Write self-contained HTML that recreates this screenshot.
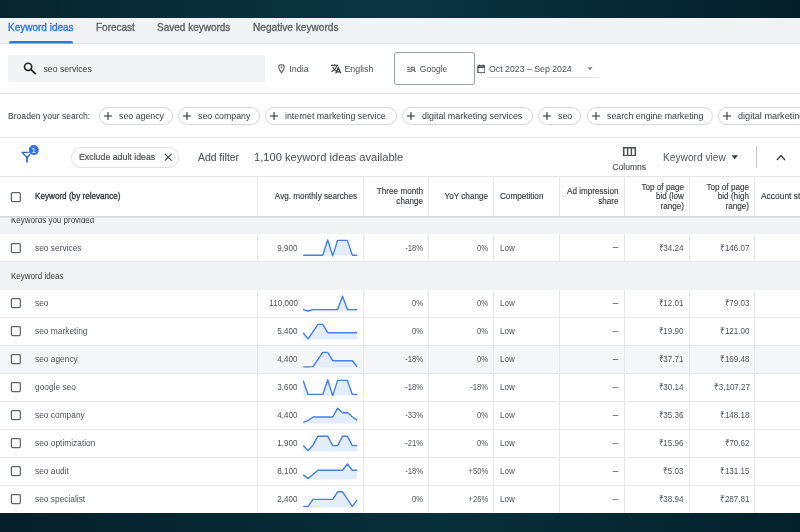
<!DOCTYPE html>
<html lang="en">
<head>
<meta charset="utf-8">
<title>Keyword ideas</title>
<style>
*{box-sizing:border-box;margin:0;padding:0}
html,body{width:800px;height:532px;overflow:hidden}
body{position:relative;background:linear-gradient(90deg,#07252e 0%,#092e38 25%,#0a3541 50%,#072a35 75%,#041e29 100%);font-family:"Liberation Sans",Arial,sans-serif;color:#3c4043;font-size:9px}
.abs{position:absolute}
.panel{position:absolute;left:0;top:18px;width:800px;height:495px;background:#fff}
.tabbar{position:absolute;left:0;top:18px;width:800px;height:26px;background:#f1f3f4;border-bottom:1px solid #e0e2e5}
.t{position:absolute;white-space:nowrap;line-height:12px;height:12px}
.tab{font-size:10px;color:#5f6368;top:22px;-webkit-text-stroke:0.33px currentColor}
.hl{position:absolute;left:0;width:800px;height:1px;background:#e3e5e8}
.chip{position:absolute;top:107px;height:18px;border:1px solid #d6d9dd;border-radius:9px;font-size:8.8px;line-height:16px;color:#3c4043;white-space:nowrap;padding-left:19px}
.chip svg{position:absolute;left:4px;top:4px;width:8px;height:8px}
/* table */
.th{position:absolute;top:177px;height:40px;font-size:8.5px;line-height:9.6px;color:#3c4043;display:flex;align-items:center;-webkit-text-stroke:0.15px currentColor;transform:scaleX(.957);transform-origin:left center}
.th.r{justify-content:flex-end;text-align:right;transform-origin:right center}
.vl{position:absolute;top:177px;width:1px;height:336px;background:#e6e8eb}
.row{position:absolute;left:0;width:800px;height:28px;border-bottom:1px solid #e6e8ea;background:#fff}
.grp{position:absolute;left:0;width:800px;background:#f1f3f4;font-size:9px;color:#3c4043}
.grp span{position:absolute;left:11px;white-space:nowrap;transform:scaleX(.89);transform-origin:left center}
.cb{position:absolute;left:9px;top:7px;width:13px;height:13px}
.c{position:absolute;top:7px;line-height:12px;font-size:9px;color:#50545a;white-space:nowrap;transform:scaleX(.895);transform-origin:left center}
.c.r{text-align:right;transform-origin:right center}
.c.kw{left:35px;transform:scaleX(.929)}
.n1{right:502.5px}.n2{right:377px}.n3{right:312px}.c.n2,.c.n3{transform:scaleX(.85)}.c.n4{left:499.5px;transform:scaleX(.895)}.c.n5{right:181.7px;font-size:10px;transform:none}.n6{right:116px}.n7{right:50.3px}
.ru{font-style:normal;font-size:8px;margin-right:-0.8px;-webkit-text-stroke:0.2px currentColor}
.sp{position:absolute;left:302px;top:3px;width:58px;height:20px}
</style>
</head>
<body>
<div id="root" style="position:absolute;left:0;top:0;width:800px;height:532px;overflow:hidden;will-change:transform;filter:blur(.4px)">
<div class="abs" style="left:0;top:510px;width:800px;height:22px;background:linear-gradient(90deg,#061f2a 0%,#072833 30%,#08303a 55%,#062833 78%,#04202b 100%)"></div>
<div class="panel"></div>
<div class="tabbar"></div>
<!-- tabs -->
<span class="t tab" style="left:8px;color:#2a75e6">Keyword ideas</span>
<div class="abs" style="left:9px;top:41px;width:64px;height:3px;background:linear-gradient(#2a75e6 0,#2a75e6 2px,rgba(42,117,230,.45) 2px);border-radius:2px 2px 0 0"></div>
<span class="t tab" style="left:96px">Forecast</span>
<span class="t tab" style="left:157px">Saved keywords</span>
<span class="t tab" style="left:253px;font-size:10.15px">Negative keywords</span>

<!-- search row -->
<div class="abs" style="left:8px;top:55px;width:257px;height:27px;background:#f1f3f4;border-radius:2px"></div>
<svg class="abs" style="left:22px;top:61px" width="16" height="16" viewBox="0 0 16 16"><circle cx="6.1" cy="5.85" r="3.6" fill="none" stroke="#202124" stroke-width="1.6"/><path d="M8.8 8.5L13.2 12.6" stroke="#202124" stroke-width="1.8" stroke-linecap="square"/></svg>
<span class="t" style="left:43.5px;top:63px;font-size:8.7px;color:#3c4043">seo services</span>

<svg class="abs" style="left:277.7px;top:64px" width="7" height="9.5" viewBox="0 0 8 11"><path d="M4 0.7C2.1 0.7 0.8 2.1 0.8 3.9C0.8 6.2 4 10.2 4 10.2C4 10.2 7.2 6.2 7.2 3.9C7.2 2.1 5.9 0.7 4 0.7Z" fill="none" stroke="#5f6368" stroke-width="1.3"/><circle cx="4" cy="3.9" r="1.1" fill="#5f6368"/></svg>
<span class="t" style="left:289.3px;top:63px;font-size:9px;color:#4d5156">India</span>
<svg class="abs" style="left:330px;top:63px" width="12" height="12" viewBox="0 0 12 12"><path d="M0.9 2.3H8.1M4.5 1.2V2.3M6.9 2.4C6.3 4.8 4.3 7.3 1.4 8.6M2.7 4.1C3.4 5.8 4.7 7.4 6.4 8.3" fill="none" stroke="#4a4e52" stroke-width="1.2"/><path d="M5.8 10.3L8.3 4.9L10.8 10.3M6.6 8.8H10" fill="none" stroke="#3c4043" stroke-width="1.3"/></svg>
<span class="t" style="left:344.5px;top:63px;font-size:8.8px;color:#4d5156">English</span>

<div class="abs" style="left:394px;top:52px;width:81px;height:33px;border:1px solid #999ea3;border-radius:3px;background:#fff"></div>
<svg class="abs" style="left:406.8px;top:65.6px" width="9" height="7.2" viewBox="0 0 10 8"><path d="M0.2 1.4H3.2M0.2 3.6H3.2M0.2 5.9H5.6" stroke="#55595e" stroke-width="1.15"/><circle cx="6.3" cy="2.9" r="1.9" fill="none" stroke="#4a4e52" stroke-width="1.15"/><path d="M7.6 4.4L9.5 6.6" stroke="#4a4e52" stroke-width="1.25"/></svg>
<span class="t" style="left:419.8px;top:63px;font-size:8.55px;color:#4d5156">Google</span>

<svg class="abs" style="left:476.6px;top:63.6px" width="8.8" height="9.7" viewBox="0 0 10 11"><rect x="1" y="1.9" width="8" height="8.2" rx="0.6" fill="none" stroke="#3c4043" stroke-width="1.25"/><path d="M1 3.5H9" stroke="#3c4043" stroke-width="1.7"/><path d="M3 0.6V2M7 0.6V2" stroke="#3c4043" stroke-width="1.3"/></svg>
<span class="t" style="left:489px;top:62.5px;font-size:8.75px;color:#4d5156">Oct 2023 – Sep 2024</span>
<svg class="abs" style="left:587.3px;top:67.3px" width="6" height="3.6" viewBox="0 0 8 5"><path d="M0.3 0.3H7.7L4 4.6Z" fill="#80868b"/></svg>
<div class="abs" style="left:487px;top:77px;width:112px;height:1px;background:#dfe1e5"></div>

<div class="hl" style="top:93px"></div>

<!-- broaden row -->
<span class="t" style="left:8px;top:110px;font-size:8.6px;color:#3c4043">Broaden your search:</span>
<div class="chip" style="left:99px;width:74px"><svg viewBox="0 0 8 8"><path d="M0 4H8M4 0V8" stroke="#2a2d31" stroke-width="1.05"/></svg>seo agency</div>
<div class="chip" style="left:178px;width:82px"><svg viewBox="0 0 8 8"><path d="M0 4H8M4 0V8" stroke="#2a2d31" stroke-width="1.05"/></svg>seo company</div>
<div class="chip" style="left:265px;width:132px"><svg viewBox="0 0 8 8"><path d="M0 4H8M4 0V8" stroke="#2a2d31" stroke-width="1.05"/></svg>internet marketing service</div>
<div class="chip" style="left:402px;width:131px;font-size:8.95px"><svg viewBox="0 0 8 8"><path d="M0 4H8M4 0V8" stroke="#2a2d31" stroke-width="1.05"/></svg>digital marketing services</div>
<div class="chip" style="left:538px;width:43px"><svg viewBox="0 0 8 8"><path d="M0 4H8M4 0V8" stroke="#2a2d31" stroke-width="1.05"/></svg>seo</div>
<div class="chip" style="left:587px;width:126px"><svg viewBox="0 0 8 8"><path d="M0 4H8M4 0V8" stroke="#2a2d31" stroke-width="1.05"/></svg>search engine marketing</div>
<div class="chip" style="left:718px;width:120px;font-size:9.15px"><svg viewBox="0 0 8 8"><path d="M0 4H8M4 0V8" stroke="#2a2d31" stroke-width="1.05"/></svg>digital marketing agency</div>

<div class="hl" style="top:137px"></div>

<!-- filter row -->
<svg class="abs" style="left:20px;top:144px" width="22" height="22" viewBox="0 0 22 22"><path d="M2.1 8.3H11.9L7 13.6Z" fill="none" stroke="#2c66dc" stroke-width="1.35" stroke-linejoin="round"/><path d="M7 13V17.7" stroke="#2c5fd2" stroke-width="1.7" stroke-linecap="square"/><circle cx="13.8" cy="6.1" r="5.6" fill="#fff"/><circle cx="13.8" cy="6.1" r="5" fill="#3572e4"/><text x="13.7" y="9" font-family="Liberation Sans, sans-serif" font-size="8" fill="#fff" text-anchor="middle">1</text></svg>
<div class="abs" style="left:71px;top:147px;width:108px;height:21px;border:1px solid #dfe1e4;border-radius:11px"></div>
<span class="t" style="left:79.3px;top:151px;font-size:9.2px;color:#4d5156;-webkit-text-stroke:0.2px currentColor;transform:scaleX(.957);transform-origin:left center">Exclude adult ideas</span>
<svg class="abs" style="left:163.5px;top:153px" width="8.5" height="8.5" viewBox="0 0 8 8"><path d="M0.8 0.8L7.2 7.2M7.2 0.8L0.8 7.2" stroke="#3c4043" stroke-width="1.15"/></svg>
<span class="t" style="left:198px;top:151.5px;font-size:10.4px;color:#55595e;-webkit-text-stroke:0.15px currentColor">Add filter</span>
<span class="t" style="left:254px;top:151px;font-size:11.15px;color:#4a4e52">1,100 keyword ideas available</span>

<svg class="abs" style="left:623px;top:146.5px" width="13" height="9.5" viewBox="0 0 13 9.5"><rect x="0.75" y="0.75" width="11.5" height="8" fill="none" stroke="#4a4e52" stroke-width="1.5"/><path d="M4.6 0.75V8.75M8.4 0.75V8.75" stroke="#4a4e52" stroke-width="1.4"/></svg>
<span class="t" style="left:612.5px;top:160.5px;font-size:8.5px;color:#55595e;-webkit-text-stroke:0.15px currentColor">Columns</span>
<span class="t" style="left:663px;top:151.5px;font-size:10.2px;color:#55595e">Keyword view</span>
<svg class="abs" style="left:731px;top:155px" width="7.5" height="4.5" viewBox="0 0 8 5"><path d="M0.3 0.3H7.7L4 4.6Z" fill="#3c4043"/></svg>
<div class="abs" style="left:756px;top:146px;width:1px;height:22px;background:#c4c7cc"></div>
<svg class="abs" style="left:776px;top:153.8px" width="10" height="7" viewBox="0 0 10 7"><path d="M1 6L5 1.6L9 6" fill="none" stroke="#3c4043" stroke-width="1.4"/></svg>

<div class="hl" style="top:176px"></div>

<!-- TABLE -->
<!--TB-->
<div class="row" style="top:234px"><svg class="cb" viewBox="0 0 13 13" style="top:7.5px"><rect x="2.4" y="1.65" width="8.9" height="8.9" rx="1" fill="#fff" stroke="#62666b" stroke-width="1.25"/></svg><span class="c kw" style="top:8px">seo services</span><span class="c r n1" style="top:8px">9,900</span><svg class="sp" style="top:3px" viewBox="0 0 58 20"><path d="M1.2,18.6 L1.2,18.3 L6.1,18.3 L11.0,18.3 L15.9,18.3 L20.8,18.3 L25.7,3.0 L30.7,18.9 L35.6,3.4 L40.5,3.4 L45.4,3.4 L50.3,18.3 L55.2,18.3 L55.2,18.6Z" fill="#e4edfd"/><polyline points="1.2,18.3 6.1,18.3 11.0,18.3 15.9,18.3 20.8,18.3 25.7,3.0 30.7,18.9 35.6,3.4 40.5,3.4 45.4,3.4 50.3,18.3 55.2,18.3" fill="none" stroke="#4580e6" stroke-width="1.4" stroke-linejoin="round"/></svg><span class="c r n2" style="top:8px">-18%</span><span class="c r n3" style="top:8px">0%</span><span class="c n4" style="top:8px">Low</span><span class="c r n5" style="top:6.5px">–</span><span class="c r n6" style="top:8px">₹34.24</span><span class="c r n7" style="top:8px">₹146.07</span></div>
<div class="row" style="top:290px"><svg class="cb" viewBox="0 0 13 13" style="top:6.7px"><rect x="2.4" y="1.65" width="8.9" height="8.9" rx="1" fill="#fff" stroke="#62666b" stroke-width="1.25"/></svg><span class="c kw" style="top:7px">seo</span><span class="c r n1" style="top:7px">110,000</span><svg class="sp" style="top:3px" viewBox="0 0 58 20"><path d="M1.2,18.6 L1.2,16.6 L6.1,18.0 L11.0,16.6 L15.9,16.6 L20.8,16.6 L25.7,16.6 L30.7,16.6 L35.6,16.6 L40.5,3.2 L45.4,16.6 L50.3,16.6 L55.2,16.6 L55.2,18.6Z" fill="#e4edfd"/><polyline points="1.2,16.6 6.1,18.0 11.0,16.6 15.9,16.6 20.8,16.6 25.7,16.6 30.7,16.6 35.6,16.6 40.5,3.2 45.4,16.6 50.3,16.6 55.2,16.6" fill="none" stroke="#4580e6" stroke-width="1.4" stroke-linejoin="round"/></svg><span class="c r n2" style="top:7px">0%</span><span class="c r n3" style="top:7px">0%</span><span class="c n4" style="top:7px">Low</span><span class="c r n5" style="top:6.5px">–</span><span class="c r n6" style="top:7px">₹12.01</span><span class="c r n7" style="top:7px">₹79.03</span></div>
<div class="row" style="top:318px"><svg class="cb" viewBox="0 0 13 13" style="top:6.7px"><rect x="2.4" y="1.65" width="8.9" height="8.9" rx="1" fill="#fff" stroke="#62666b" stroke-width="1.25"/></svg><span class="c kw" style="top:7px">seo marketing</span><span class="c r n1" style="top:7px">5,400</span><svg class="sp" style="top:3px" viewBox="0 0 58 20"><path d="M1.2,18.6 L1.2,11.7 L6.1,17.9 L11.0,10.6 L15.9,3.4 L20.8,3.4 L25.7,11.7 L30.7,11.7 L35.6,11.7 L40.5,11.7 L45.4,11.7 L50.3,11.7 L55.2,11.7 L55.2,18.6Z" fill="#e4edfd"/><polyline points="1.2,11.7 6.1,17.9 11.0,10.6 15.9,3.4 20.8,3.4 25.7,11.7 30.7,11.7 35.6,11.7 40.5,11.7 45.4,11.7 50.3,11.7 55.2,11.7" fill="none" stroke="#4580e6" stroke-width="1.4" stroke-linejoin="round"/></svg><span class="c r n2" style="top:7px">0%</span><span class="c r n3" style="top:7px">0%</span><span class="c n4" style="top:7px">Low</span><span class="c r n5" style="top:6.5px">–</span><span class="c r n6" style="top:7px">₹19.90</span><span class="c r n7" style="top:7px">₹121.00</span></div>
<div class="row" style="top:346px;background:#f5f6f7"><svg class="cb" viewBox="0 0 13 13" style="top:6.7px"><rect x="2.4" y="1.65" width="8.9" height="8.9" rx="1" fill="#fff" stroke="#62666b" stroke-width="1.25"/></svg><span class="c kw" style="top:7px">seo agency</span><span class="c r n1" style="top:7px">4,400</span><svg class="sp" style="top:3px" viewBox="0 0 58 20"><path d="M1.2,18.6 L1.2,17.9 L6.1,17.9 L11.0,17.6 L15.9,10.5 L20.8,3.4 L25.7,3.4 L30.7,11.7 L35.6,11.7 L40.5,11.7 L45.4,11.7 L50.3,11.7 L55.2,17.7 L55.2,18.6Z" fill="#e4edfd"/><polyline points="1.2,17.9 6.1,17.9 11.0,17.6 15.9,10.5 20.8,3.4 25.7,3.4 30.7,11.7 35.6,11.7 40.5,11.7 45.4,11.7 50.3,11.7 55.2,17.7" fill="none" stroke="#4580e6" stroke-width="1.4" stroke-linejoin="round"/></svg><span class="c r n2" style="top:7px">-18%</span><span class="c r n3" style="top:7px">0%</span><span class="c n4" style="top:7px">Low</span><span class="c r n5" style="top:6.5px">–</span><span class="c r n6" style="top:7px">₹37.71</span><span class="c r n7" style="top:7px">₹169.48</span></div>
<div class="row" style="top:374px"><svg class="cb" viewBox="0 0 13 13" style="top:6.7px"><rect x="2.4" y="1.65" width="8.9" height="8.9" rx="1" fill="#fff" stroke="#62666b" stroke-width="1.25"/></svg><span class="c kw" style="top:7px">google seo</span><span class="c r n1" style="top:7px">3,600</span><svg class="sp" style="top:3px" viewBox="0 0 58 20"><path d="M1.2,18.6 L1.2,3.7 L6.1,17.4 L11.0,17.4 L15.9,17.4 L20.8,17.4 L25.7,3.0 L30.7,18.6 L35.6,3.4 L40.5,3.4 L45.4,3.4 L50.3,17.4 L55.2,17.4 L55.2,18.6Z" fill="#e4edfd"/><polyline points="1.2,3.7 6.1,17.4 11.0,17.4 15.9,17.4 20.8,17.4 25.7,3.0 30.7,18.6 35.6,3.4 40.5,3.4 45.4,3.4 50.3,17.4 55.2,17.4" fill="none" stroke="#4580e6" stroke-width="1.4" stroke-linejoin="round"/></svg><span class="c r n2" style="top:7px">-18%</span><span class="c r n3" style="top:7px">-18%</span><span class="c n4" style="top:7px">Low</span><span class="c r n5" style="top:6.5px">–</span><span class="c r n6" style="top:7px">₹30.14</span><span class="c r n7" style="top:7px">₹3,107.27</span></div>
<div class="row" style="top:402px"><svg class="cb" viewBox="0 0 13 13" style="top:6.7px"><rect x="2.4" y="1.65" width="8.9" height="8.9" rx="1" fill="#fff" stroke="#62666b" stroke-width="1.25"/></svg><span class="c kw" style="top:7px">seo company</span><span class="c r n1" style="top:7px">4,400</span><svg class="sp" style="top:3px" viewBox="0 0 58 20"><path d="M1.2,18.6 L1.2,17.4 L6.1,15.4 L11.0,12.0 L15.9,12.0 L20.8,12.0 L25.7,12.0 L30.7,12.0 L35.6,3.2 L40.5,7.8 L45.4,7.5 L50.3,11.7 L55.2,15.4 L55.2,18.6Z" fill="#e4edfd"/><polyline points="1.2,17.4 6.1,15.4 11.0,12.0 15.9,12.0 20.8,12.0 25.7,12.0 30.7,12.0 35.6,3.2 40.5,7.8 45.4,7.5 50.3,11.7 55.2,15.4" fill="none" stroke="#4580e6" stroke-width="1.4" stroke-linejoin="round"/></svg><span class="c r n2" style="top:7px">-33%</span><span class="c r n3" style="top:7px">0%</span><span class="c n4" style="top:7px">Low</span><span class="c r n5" style="top:6.5px">–</span><span class="c r n6" style="top:7px">₹35.36</span><span class="c r n7" style="top:7px">₹148.18</span></div>
<div class="row" style="top:430px"><svg class="cb" viewBox="0 0 13 13" style="top:6.7px"><rect x="2.4" y="1.65" width="8.9" height="8.9" rx="1" fill="#fff" stroke="#62666b" stroke-width="1.25"/></svg><span class="c kw" style="top:7px">seo optimization</span><span class="c r n1" style="top:7px">1,900</span><svg class="sp" style="top:3px" viewBox="0 0 58 20"><path d="M1.2,18.6 L1.2,12.6 L6.1,17.4 L11.0,12.2 L15.9,3.2 L20.8,3.2 L25.7,3.2 L30.7,12.6 L35.6,12.6 L40.5,3.2 L45.4,3.2 L50.3,12.6 L55.2,12.6 L55.2,18.6Z" fill="#e4edfd"/><polyline points="1.2,12.6 6.1,17.4 11.0,12.2 15.9,3.2 20.8,3.2 25.7,3.2 30.7,12.6 35.6,12.6 40.5,3.2 45.4,3.2 50.3,12.6 55.2,12.6" fill="none" stroke="#4580e6" stroke-width="1.4" stroke-linejoin="round"/></svg><span class="c r n2" style="top:7px">-21%</span><span class="c r n3" style="top:7px">0%</span><span class="c n4" style="top:7px">Low</span><span class="c r n5" style="top:6.5px">–</span><span class="c r n6" style="top:7px">₹15.96</span><span class="c r n7" style="top:7px">₹70.62</span></div>
<div class="row" style="top:458px"><svg class="cb" viewBox="0 0 13 13" style="top:6.7px"><rect x="2.4" y="1.65" width="8.9" height="8.9" rx="1" fill="#fff" stroke="#62666b" stroke-width="1.25"/></svg><span class="c kw" style="top:7px">seo audit</span><span class="c r n1" style="top:7px">8,100</span><svg class="sp" style="top:3px" viewBox="0 0 58 20"><path d="M1.2,18.6 L1.2,13.9 L6.1,17.4 L11.0,13.5 L15.9,9.3 L20.8,9.3 L25.7,9.3 L30.7,9.3 L35.6,9.3 L40.5,9.3 L45.4,3.0 L50.3,9.3 L55.2,9.3 L55.2,18.6Z" fill="#e4edfd"/><polyline points="1.2,13.9 6.1,17.4 11.0,13.5 15.9,9.3 20.8,9.3 25.7,9.3 30.7,9.3 35.6,9.3 40.5,9.3 45.4,3.0 50.3,9.3 55.2,9.3" fill="none" stroke="#4580e6" stroke-width="1.4" stroke-linejoin="round"/></svg><span class="c r n2" style="top:7px">-18%</span><span class="c r n3" style="top:7px">+50%</span><span class="c n4" style="top:7px">Low</span><span class="c r n5" style="top:6.5px">–</span><span class="c r n6" style="top:7px">₹5.03</span><span class="c r n7" style="top:7px">₹131.15</span></div>
<div class="row" style="top:486px;height:27px;border-bottom:0"><svg class="cb" viewBox="0 0 13 13" style="top:6.7px"><rect x="2.4" y="1.65" width="8.9" height="8.9" rx="1" fill="#fff" stroke="#62666b" stroke-width="1.25"/></svg><span class="c kw" style="top:7px">seo specialist</span><span class="c r n1" style="top:7px">2,400</span><svg class="sp" style="top:3px" viewBox="0 0 58 20"><path d="M1.2,18.6 L1.2,17.4 L6.1,17.4 L11.0,10.4 L15.9,10.4 L20.8,10.4 L25.7,10.4 L30.7,10.4 L35.6,2.8 L40.5,2.8 L45.4,10.1 L50.3,17.4 L55.2,10.9 L55.2,18.6Z" fill="#e4edfd"/><polyline points="1.2,17.4 6.1,17.4 11.0,10.4 15.9,10.4 20.8,10.4 25.7,10.4 30.7,10.4 35.6,2.8 40.5,2.8 45.4,10.1 50.3,17.4 55.2,10.9" fill="none" stroke="#4580e6" stroke-width="1.4" stroke-linejoin="round"/></svg><span class="c r n2" style="top:7px">0%</span><span class="c r n3" style="top:7px">+26%</span><span class="c n4" style="top:7px">Low</span><span class="c r n5" style="top:6.5px">–</span><span class="c r n6" style="top:7px">₹38.94</span><span class="c r n7" style="top:7px">₹287.81</span></div>
<div class="vl" style="left:257px"></div>
<div class="vl" style="left:363px"></div>
<div class="vl" style="left:428px"></div>
<div class="vl" style="left:493px"></div>
<div class="vl" style="left:559px"></div>
<div class="vl" style="left:624px"></div>
<div class="vl" style="left:689px"></div>
<div class="vl" style="left:754px"></div>
<div class="grp" style="top:217px;height:17px"><span style="top:-3.5px;line-height:12px">Keywords you provided</span></div>
<div class="grp" style="top:262px;height:28px"><span style="top:8px;line-height:12px">Keyword ideas</span></div>
<div class="abs" style="left:0;top:177px;width:800px;height:40px;background:#fff"></div>
<div class="vl" style="left:257px;height:40px"></div>
<div class="vl" style="left:363px;height:40px"></div>
<div class="vl" style="left:428px;height:40px"></div>
<div class="vl" style="left:493px;height:40px"></div>
<div class="vl" style="left:559px;height:40px"></div>
<div class="vl" style="left:624px;height:40px"></div>
<div class="vl" style="left:689px;height:40px"></div>
<div class="vl" style="left:754px;height:40px"></div>
<svg class="cb" viewBox="0 0 13 13" style="top:190.5px"><rect x="2.4" y="1.65" width="8.9" height="8.9" rx="1" fill="#fff" stroke="#62666b" stroke-width="1.25"/></svg>
<div class="th" style="left:35px;width:200px;-webkit-text-stroke:0.35px currentColor">Keyword (by relevance)</div>
<div class="th r" style="left:258px;width:99px">Avg. monthly searches</div>
<div class="th r" style="left:364px;width:59px">Three month<br>change</div>
<div class="th r" style="left:429px;width:59px">YoY change</div>
<div class="th" style="left:499.5px;width:59px">Competition</div>
<div class="th r" style="left:560px;width:58.5px">Ad impression<br>share</div>
<div class="th r" style="left:625px;width:59px">Top of page<br>bid (low<br>range)</div>
<div class="th r" style="left:690px;width:59px">Top of page<br>bid (high<br>range)</div>
<div class="th" style="left:761px;width:60px;white-space:nowrap;transform:scaleX(.99)">Account status</div>
<div class="abs" style="left:0;top:216px;width:800px;height:2px;background:linear-gradient(#cfd2d6,#e4e6e9)"></div>
<!--/TB-->
</div>
</body>
</html>
